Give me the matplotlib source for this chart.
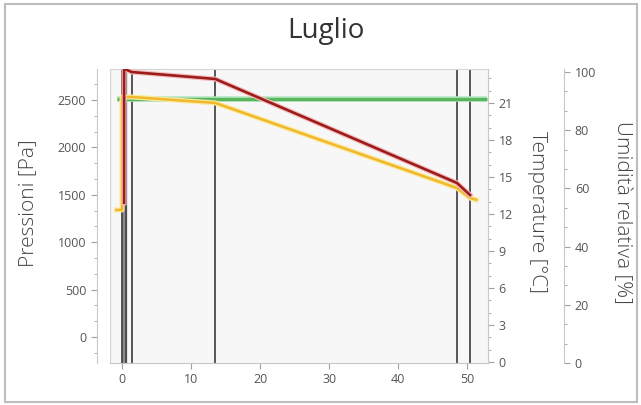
import numpy as np
import matplotlib
matplotlib.use('Agg')
import matplotlib.pyplot as plt
from matplotlib.ticker import MultipleLocator, AutoMinorLocator
from matplotlib.patches import Rectangle

plt.rcParams['font.family'] = ['Open Sans', 'DejaVu Sans']

# spessori progressivi degli strati [cm]
x_strati = [0.0, 0.6, 1.4, 13.5, 48.5, 50.4]

# pressione di saturazione [Pa]
x_sat = [0.3, 0.3, 1.4, 13.5, 48.5, 50.4]
p_sat = [1415, 2830, 2795, 2722, 1625, 1498]

# pressione parziale del vapore [Pa]
x_vap = [-0.8, 0.0, 0.0, 1.4, 13.5, 48.5, 50.4, 51.3]
p_vap = [1340, 1340, 2532, 2532, 2469, 1572, 1466, 1448]

# linea di riferimento [Pa]
x_rif = [-0.7, 52.8]
p_rif = [2510, 2510]

titolo = 'Luglio'

fig = plt.figure(figsize=(6.41, 4.05), dpi=100)
ax = fig.add_axes([110/641, 42/405, 378/641, 294/405])
ax.set_facecolor('#f7f7f7')

ax.set_xlim(-1.74, 53.0)
ax.set_ylim(-274, 2827)

# strati della parete
ax.axvspan(x_strati[0], x_strati[1], color='#8c8c8c', zorder=1)
for xs in x_strati:
    ax.axvline(xs, color='#4a4a4a', lw=1.3, zorder=2)

# linee con alone chiaro
ax.plot(x_rif, p_rif, color='#b4e6c0', lw=4, solid_capstyle='butt', zorder=3)
ax.plot(x_rif, p_rif, color='#5ab65c', lw=2.4, solid_capstyle='butt', zorder=4)
ax.plot(x_vap, p_vap, color='#fae9a0', lw=3.6, zorder=5)
ax.plot(x_vap, p_vap, color='#f0b82a', lw=1.8, zorder=6)
ax.plot(x_sat, p_sat, color='#f5bcbc', lw=3.6, zorder=7)
ax.plot(x_sat, p_sat, color='#9c1c1c', lw=1.9, zorder=8)

# assi
ax.spines['right'].set_visible(False)
ax.spines['top'].set_color('#d4d4d4')
ax.spines['bottom'].set_color('#c8c8c8')
ax.spines['left'].set_color('#c8c8c8')
ax.spines['left'].set_position(('outward', 9.5))

ax.xaxis.set_major_locator(MultipleLocator(10))
ax.yaxis.set_major_locator(MultipleLocator(500))
ax.yaxis.set_minor_locator(AutoMinorLocator(3))
ax.tick_params(axis='both', which='both', colors='#a0a0a0', labelcolor='#555555', labelsize=9)
ax.tick_params(which='major', length=4)
ax.tick_params(which='minor', length=2.5)
ax.axvline(ax.get_xlim()[0], color='#d4d4d4', lw=1, zorder=0)

# temperatura
ax_t = ax.twinx()
ax_t.yaxis.set_major_locator(MultipleLocator(3))
ax_t.yaxis.set_minor_locator(AutoMinorLocator(3))
ax_t.set_ylim(-0.08, 23.76)

# umidita relativa
ax_u = ax.twinx()
ax_u.set_ylim(0, 101)
ax_u.spines['right'].set_position(('outward', 55))
ax_u.yaxis.set_major_locator(MultipleLocator(20))
ax_u.yaxis.set_minor_locator(AutoMinorLocator(3))

for a in (ax_t, ax_u):
    for s in ['top', 'left', 'bottom']:
        a.spines[s].set_visible(False)
    a.spines['right'].set_color('#c8c8c8')
    a.tick_params(axis='y', which='both', colors='#a0a0a0', labelcolor='#555555', labelsize=9)
    a.tick_params(which='major', length=4)
    a.tick_params(which='minor', length=2.5)

lab = dict(fontsize=15, color='#444444', fontweight='light', va='center', ha='center')
fig.text(28/641, 1 - 203/405, 'Pressioni [Pa]', rotation=90, **lab)
fig.text(537/641, 1 - 212/405, 'Temperature [°C]', rotation=-90, **lab)
fig.text(622/641, 1 - 212/405, 'Umidità relativa [%]', rotation=-90, **lab)
fig.text(326/641, 1 - 31/405, titolo, fontsize=20, color='#333333', ha='center', va='center')

fig.patches.append(Rectangle((5/641, 3/405), 632/641, 398/405, transform=fig.transFigure,
                             fill=False, edgecolor='#bdbdbd', lw=1.5))

fig.savefig('out.png', dpi=100)
